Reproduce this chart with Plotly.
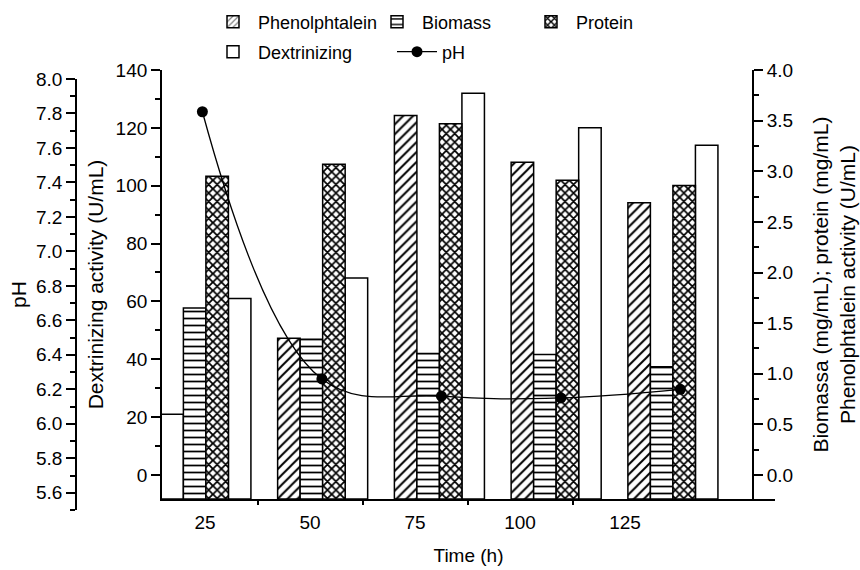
import plotly.graph_objects as go

# ---- data ----
time_h = [25, 50, 75, 100, 125]
time_labels = ["25", "50", "75", "100", "125"]
phenolphtalein = [0.60, 1.35, 3.55, 3.09, 2.69]      # U/mL (right axis)
biomass = [1.65, 1.34, 1.20, 1.19, 1.07]             # mg/mL (right axis)
protein = [2.95, 3.07, 3.47, 2.91, 2.86]             # mg/mL (right axis)
dextrinizing = [61.0, 68.1, 132.0, 120.0, 114.0]     # U/mL (left axis)
ph = [7.81, 6.26, 6.16, 6.15, 6.20]

# ---- layout geometry (pixels) ----
W, H = 860, 570
ML, MR, MT, MB = 76, 85, 70, 60
PW = W - ML - MR
PHt = H - MT - MB


def px_x(p):
    return (p - ML) / PW


def px_y(p):
    return (H - MB - p) / PHt


XD = [px_x(162), 1.0]
YD = [px_y(499), 1.0]
YPH = [0.0, px_y(79)]

LEFT_RANGE = [-8.3, 140]
RIGHT_RANGE = [-0.237, 4.0]
PH_RANGE = [5.5, 8.0]
BAR_X_RANGE = [15.6, 146.86]
LABEL_X_RANGE = [14.76, 160.71]
PH_X_RANGE = [16.55, 144.79]

BW = 4.82  # bar width in x units
FONT = "Liberation Sans, Arial, sans-serif"
LINE_W = 1.8


def bar_trace(name, vals, yaxis, slot, base, shapes, size, solidity, legend, showlegend=True):
    return go.Bar(
        x=time_h,
        y=[v - base for v in vals],
        base=base,
        width=BW,
        offset=(slot - 2) * BW,
        name=name,
        xaxis="x",
        yaxis=yaxis,
        legend=legend,
        showlegend=showlegend,
        marker=dict(
            color="white",
            line=dict(color="black", width=1.5),
            pattern=dict(shape=shapes, fgcolor="black", bgcolor="white",
                         size=size, solidity=solidity, fillmode="replace"),
        ),
        customdata=vals,
        hovertemplate=name + ": %{customdata}<extra></extra>",
    )


fig = go.Figure()

phen_shapes = ["" if v < 1.0 else "/" for v in phenolphtalein]
fig.add_trace(bar_trace("Phenolphtalein", phenolphtalein, "y2", 0, RIGHT_RANGE[0],
                        phen_shapes, 7, 0.28, "legend", showlegend=False))
# legend entry for phenolphtalein (hatched swatch)
fig.add_trace(go.Bar(x=[None], y=[None], name="Phenolphtalein", xaxis="x", yaxis="y2",
                     legend="legend",
                     marker=dict(color="white", line=dict(color="black", width=1.5),
                                 pattern=dict(shape="/", fgcolor="black", bgcolor="white",
                                              size=5, solidity=0.3))))
fig.add_trace(bar_trace("Biomass", biomass, "y2", 1, RIGHT_RANGE[0],
                        "-", 7, 0.25, "legend2"))
fig.add_trace(bar_trace("Protein", protein, "y2", 2, RIGHT_RANGE[0],
                        "x", 6, 0.5, "legend3"))
fig.add_trace(bar_trace("Dextrinizing", dextrinizing, "y", 3, LEFT_RANGE[0],
                        "", 8, 0.2, "legend4"))

# invisible helper so the label axis is built
fig.add_trace(go.Scatter(x=time_h, y=[0] * len(time_h), xaxis="x2", yaxis="y",
                         mode="markers", marker=dict(opacity=0), showlegend=False,
                         hoverinfo="skip"))

fig.add_trace(go.Scatter(
    x=time_h, y=ph, name="pH", xaxis="x3", yaxis="y3", legend="legend5",
    mode="lines+markers",
    line=dict(color="black", width=1.3, shape="spline", smoothing=1.1),
    marker=dict(color="black", size=11),
))

mids = [(a + b) / 2 for a, b in zip(time_h[:-1], time_h[1:])]

axis_common = dict(showgrid=False, zeroline=False, showline=True, linecolor="black",
                   linewidth=LINE_W, tickcolor="black", tickwidth=1.5,
                   tickfont=dict(size=19, color="black", family=FONT))

legend_common = dict(orientation="h", bgcolor="rgba(0,0,0,0)", borderwidth=0,
                     font=dict(size=18, color="black", family=FONT),
                     xanchor="left", yanchor="middle", itemwidth=40)

fig.update_layout(
    width=W, height=H,
    margin=dict(l=ML, r=MR, t=MT, b=MB, autoexpand=False),
    paper_bgcolor="white", plot_bgcolor="rgba(0,0,0,0)",
    font=dict(family=FONT, color="black", size=18),
    barmode="overlay",
    xaxis=dict(domain=XD, range=BAR_X_RANGE, anchor="y", showticklabels=False,
               ticks="", showgrid=False, zeroline=False, showline=True,
               linecolor="black", linewidth=LINE_W),
    xaxis2=dict(overlaying="x", anchor="y", side="bottom", range=LABEL_X_RANGE,
                tickmode="array", tickvals=time_h, ticktext=time_labels,
                ticks="outside", ticklen=6, tickcolor="rgba(0,0,0,0)",
                minor=dict(tickmode="array", tickvals=mids, ticks="outside",
                           ticklen=5, tickcolor="black", tickwidth=1.5),
                showgrid=False, zeroline=False, showline=False,
                tickfont=dict(size=19, color="black", family=FONT),
                title=dict(text="Time (h)", font=dict(size=19, color="black", family=FONT),
                           standoff=16)),
    xaxis3=dict(domain=XD, range=PH_X_RANGE, anchor="y3", visible=False),
    yaxis=dict(domain=YD, range=LEFT_RANGE, anchor="x", side="left",
               tick0=0, dtick=20, ticks="outside", ticklen=9,
               minor=dict(dtick=10, tick0=0, ticks="outside", ticklen=5,
                          tickcolor="black", tickwidth=1.5),
               title=dict(text="Dextrinizing activity (U/mL)",
                          font=dict(size=21, color="black", family=FONT), standoff=6),
               **axis_common),
    yaxis2=dict(overlaying="y", side="right", anchor="free", position=px_x(753),
                range=RIGHT_RANGE, tick0=0, dtick=0.5, tickformat=".1f",
                ticks="outside", ticklen=9,
                minor=dict(dtick=0.25, tick0=0, ticks="outside", ticklen=5,
                           tickcolor="black", tickwidth=1.5),
                title=dict(text="Biomassa (mg/mL); protein (mg/mL)<br>Phenolphtalein activity (U/mL)",
                           font=dict(size=21, color="black", family=FONT), standoff=20),
                **axis_common),
    yaxis3=dict(domain=YPH, range=PH_RANGE, anchor="free", position=0, side="left",
                tick0=5.6, dtick=0.2, tickformat=".1f", ticks="outside", ticklen=9,
                minor=dict(dtick=0.1, tick0=5.5, ticks="outside", ticklen=5,
                           tickcolor="black", tickwidth=1.5),
                title=dict(text="pH", font=dict(size=21, color="black", family=FONT),
                           standoff=3),
                **axis_common),
    legend=dict(x=px_x(208), y=px_y(22), **legend_common),
    legend2=dict(x=px_x(372), y=px_y(22), **legend_common),
    legend3=dict(x=px_x(526), y=px_y(22), **legend_common),
    legend4=dict(x=px_x(208), y=px_y(52), **legend_common),
    legend5=dict(x=px_x(392), y=px_y(52), **legend_common),
    showlegend=True,
)

fig.write_html("out.html")
